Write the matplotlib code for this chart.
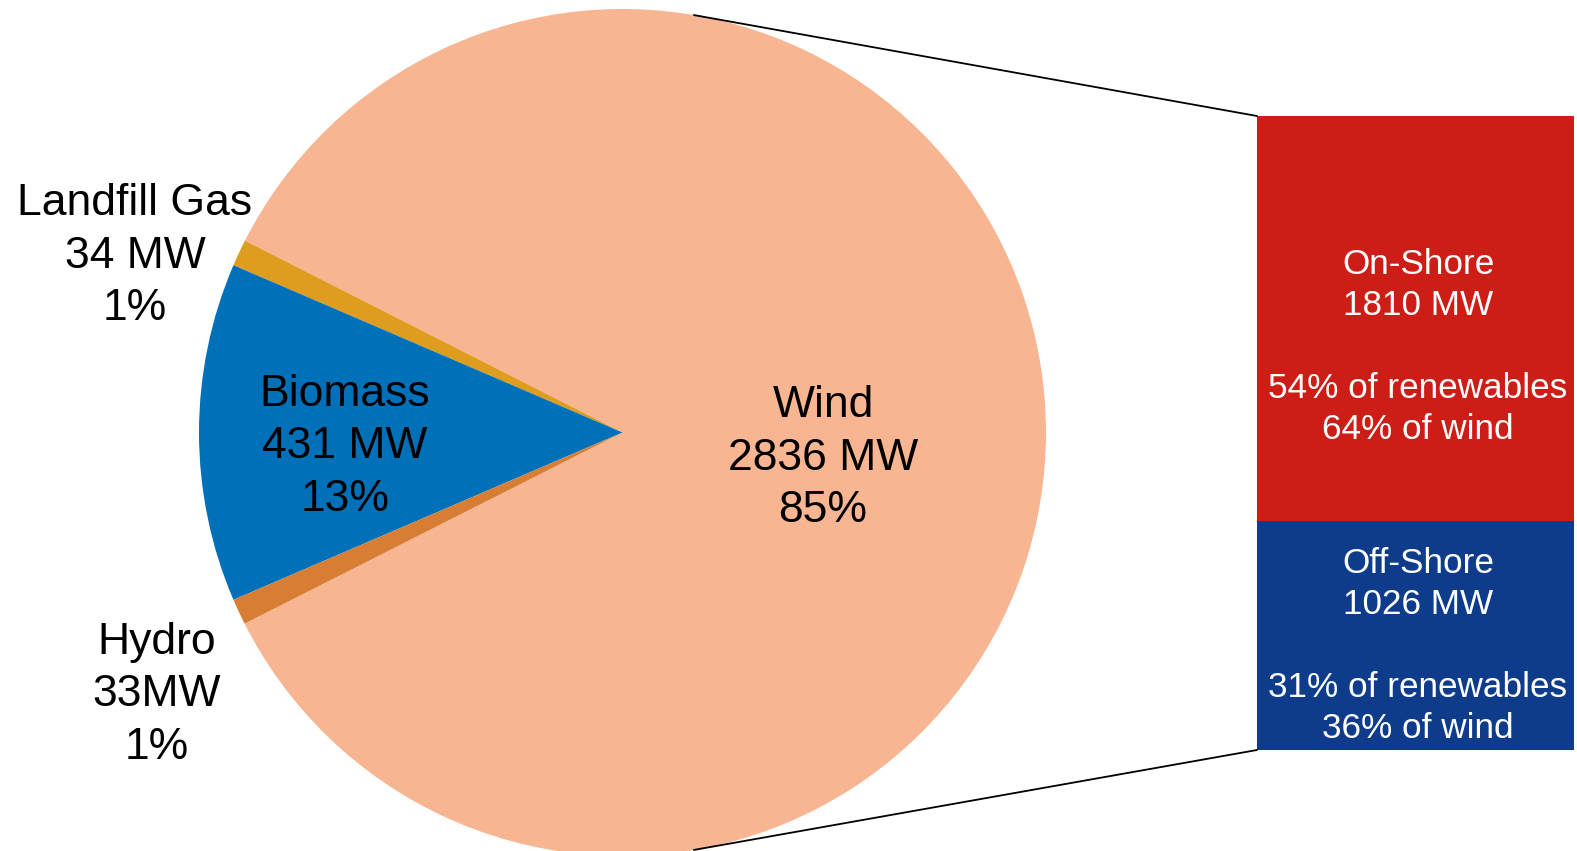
import numpy as np
import matplotlib
matplotlib.use("Agg")
import matplotlib.pyplot as plt
from matplotlib.patches import ConnectionPatch

plt.rcParams['font.family'] = ['Liberation Sans', 'DejaVu Sans']

# ---- data ----
pie_labels = ["Wind", "Landfill Gas", "Biomass", "Hydro"]
pie_values = [2836, 34, 431, 33]
pie_texts = ["Wind\n2836 MW\n85%", "Landfill Gas\n34 MW\n1%",
             "Biomass\n431 MW\n13%", "Hydro\n33MW\n1%"]
pie_colors = ["#F7B591", "#DE9D1E", "#0070B8", "#D87E34"]

wind_labels = ["Off-Shore", "On-Shore"]
wind_values = [1026, 1810]
wind_texts = ["Off-Shore\n1026 MW\n\n31% of renewables\n36% of wind",
              "On-Shore\n1810 MW\n\n54% of renewables\n64% of wind"]
wind_colors = ["#0E3C8B", "#CC1E16"]

W, H = 1577, 851
fig = plt.figure(figsize=(W / 100, H / 100), dpi=100)
fig.patch.set_facecolor("white")

# ---- pie ----
ax = fig.add_axes([0, 0, 1, 1])
total = sum(pie_values)
start = 180 + (pie_values[2] / 2 + pie_values[3]) / total * 360
cx, cy, r = 622.5, 418.5, 423.5
ax.pie(pie_values, colors=pie_colors, startangle=start, counterclock=True,
       center=(cx, cy), radius=r, frame=True,
       wedgeprops=dict(linewidth=0))
ax.set_xlim(0, W)
ax.set_ylim(0, H)
ax.set_aspect("equal")
ax.axis("off")

fs = 32
ls = 1.36
ax.text(823, H - 458, pie_texts[0], ha="center", va="center", fontsize=fs,
        color="black", linespacing=ls)
ax.text(135, H - 256, pie_texts[1], ha="center", va="center", fontsize=fs,
        color="black", linespacing=ls)
ax.text(345, H - 447, pie_texts[2], ha="center", va="center", fontsize=fs,
        color="black", linespacing=ls)
ax.text(157, H - 695, pie_texts[3], ha="center", va="center", fontsize=fs,
        color="black", linespacing=ls)

# ---- stacked bar of wind ----
ax2 = fig.add_axes([1257 / W, (H - 750) / H, 317 / W, 634 / H])
bottom = 0
for v, c in zip(wind_values, wind_colors):
    ax2.bar([0], [v], bottom=bottom, width=1, color=c, linewidth=0)
    bottom += v
ax2.set_xlim(-0.5, 0.5)
ax2.set_ylim(0, sum(wind_values))
ax2.axis("off")

ax2.text(0.508, 0.164, wind_texts[0], transform=ax2.transAxes, ha="center",
         va="center", fontsize=25.3, color="white", linespacing=1.32)
ax2.text(0.508, 0.636, wind_texts[1], transform=ax2.transAxes, ha="center",
         va="center", fontsize=25.3, color="white", linespacing=1.32)

# ---- connector lines ----
ang = np.deg2rad(80.3)
px = cx + r * np.cos(ang)
for py, corner in [(cy + r * np.sin(ang), (0, 1)), (cy - r * np.sin(ang), (0, 0))]:
    con = ConnectionPatch(xyA=(px, py), coordsA=ax.transData,
                          xyB=corner, coordsB=ax2.transAxes,
                          color="black", linewidth=1.3)
    fig.add_artist(con)

fig.savefig("out.png", dpi=100, facecolor="white")
